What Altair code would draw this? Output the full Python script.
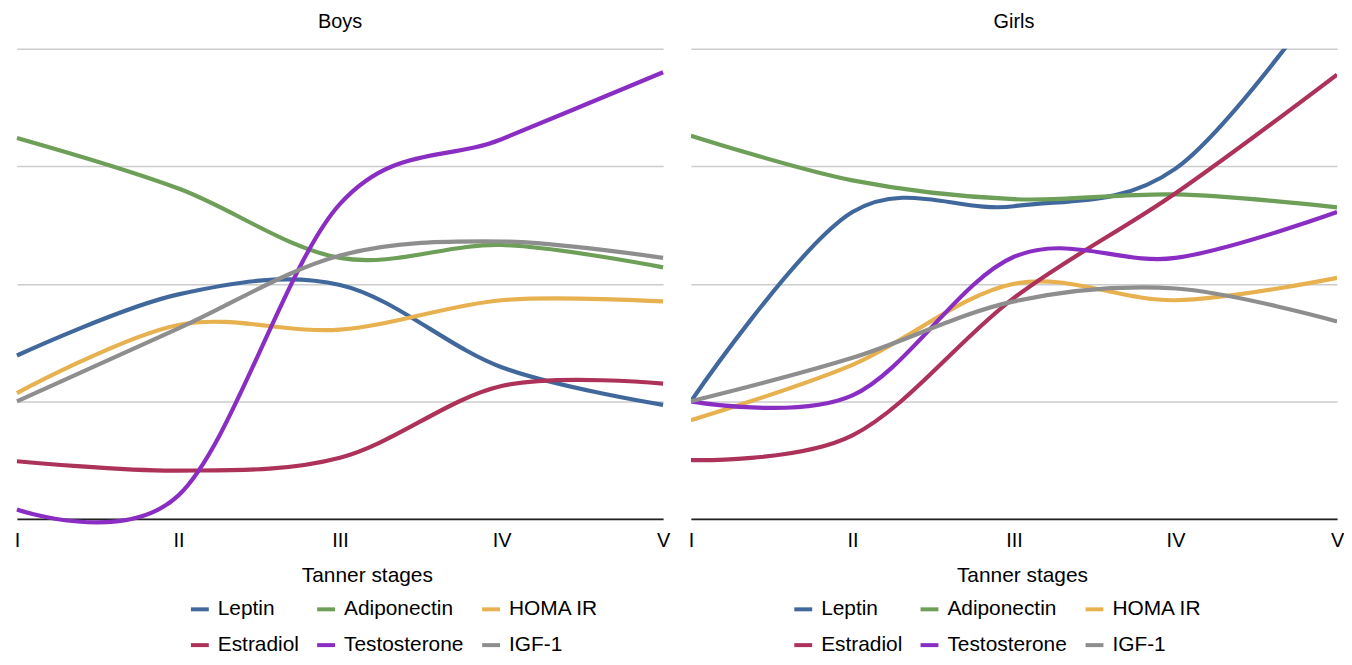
import altair as alt
import pandas as pd

stages = ["I", "II", "III", "IV", "V"]
series = ["Leptin", "Adiponectin", "HOMA IR", "Estradiol", "Testosterone", "IGF-1"]
colors = ["#41689c", "#6e9f58", "#e8b14f", "#ad3259", "#8a2dc3", "#8e8e8e"]

boys_leptin = [1.39, 1.91, 1.99, 1.29, 0.97]
boys_adiponectin = [3.24, 2.81, 2.22, 2.33, 2.14]
boys_homa = [1.07, 1.65, 1.61, 1.86, 1.85]
boys_estradiol = [0.49, 0.41, 0.52, 1.13, 1.15]
boys_testosterone = [0.08, 0.20, 2.68, 3.23, 3.80]
boys_igf1 = [1.00, 1.62, 2.24, 2.36, 2.22]

girls_leptin = [1.00, 2.61, 2.66, 2.98, 4.60]
girls_adiponectin = [3.26, 2.88, 2.72, 2.76, 2.65]
girls_homa = [0.84, 1.31, 2.00, 1.86, 2.05]
girls_estradiol = [0.50, 0.71, 1.88, 2.77, 3.78]
girls_testosterone = [1.00, 1.05, 2.23, 2.22, 2.61]
girls_igf1 = [1.00, 1.37, 1.85, 1.96, 1.68]

boys = [boys_leptin, boys_adiponectin, boys_homa, boys_estradiol, boys_testosterone, boys_igf1]
girls = [girls_leptin, girls_adiponectin, girls_homa, girls_estradiol, girls_testosterone, girls_igf1]


def frame(groups):
    rows = []
    for name, vals in zip(series, groups):
        for st, v in zip(stages, vals):
            rows.append({"stage": st, "series": name, "value": v})
    return pd.DataFrame(rows)


FONT = "Liberation Sans"


def panel(df, title, legend_x, title_x, clip):
    return (
        alt.Chart(df, title=alt.Title(title, fontSize=20, fontWeight="normal", font=FONT,
                                      color="black", offset=17))
        .mark_line(interpolate="cardinal", strokeWidth=4.2, clip=clip)
        .encode(
            x=alt.X("stage:O", sort=stages,
                    scale=alt.Scale(type="point", padding=0),
                    axis=alt.Axis(title="Tanner stages", labelAngle=0, ticks=False,
                                  grid=False, domainColor="#222222", domainWidth=2,
                                  labelFontSize=20, labelFont=FONT, labelColor="black",
                                  labelPadding=12, titleFontSize=21, titleFont=FONT,
                                  titleFontWeight="normal", titleColor="black",
                                  titlePadding=14, titleX=title_x)),
            y=alt.Y("value:Q", scale=alt.Scale(domain=[0, 4], nice=False, zero=True),
                    axis=alt.Axis(title=None, labels=False, ticks=False, domain=False,
                                  values=[0, 1, 2, 3, 4], grid=True, gridColor="#cccccc",
                                  gridWidth=1.5, minExtent=0, maxExtent=0)),
            color=alt.Color("series:N", sort=series,
                            scale=alt.Scale(domain=series, range=colors),
                            legend=alt.Legend(title=None, orient="none", legendX=legend_x,
                                              legendY=553, columns=3, direction="horizontal",
                                              symbolType="stroke",
                                              symbolStrokeWidth=4, symbolSize=324,
                                              labelFontSize=21, labelFont=FONT,
                                              labelColor="black", labelOffset=7,
                                              columnPadding=10, rowPadding=15,
                                              padding=0)),
        )
        .properties(width=650, height=473)
    )


left = panel(frame(boys), "Boys", 173, 352, False)
right = panel(frame(girls), "Girls", 102, 333, True)

chart = (
    alt.hconcat(left, right, spacing=16)
    .resolve_scale(color="independent")
    .resolve_legend(color="independent")
    .properties(padding={"left": 0, "top": 2, "right": 0, "bottom": -3})
    .configure_view(stroke=None)
)

chart.save("out.html", embed_options={"renderer": "svg", "actions": False})
